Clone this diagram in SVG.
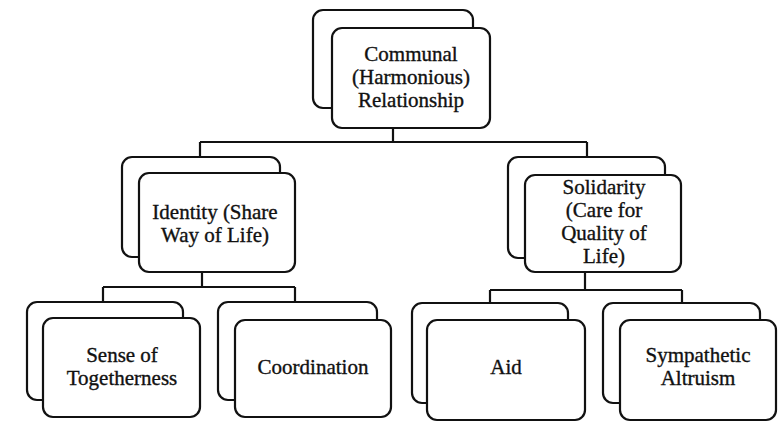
<svg xmlns="http://www.w3.org/2000/svg" width="778" height="422" viewBox="0 0 778 422">
<style>
.box{fill:#fff;stroke:#111;stroke-width:2.2}
.ln{fill:none;stroke:#111;stroke-width:2.2}
text{font-family:"Liberation Serif","Times New Roman",serif;font-size:21px;fill:#111;stroke:#111;stroke-width:0.35;text-anchor:middle}
</style>
<rect width="778" height="422" fill="#fff"/>
<g id="connectors">
<path class="ln" d="M393 128V142M200 142H587M200 142V157M587 142V157"/>
<path class="ln" d="M202 272V287M103 287H295M103 287V302M295 287V302"/>
<path class="ln" d="M585 272V290M490 290H682M490 290V303M682 290V303"/>
</g>
<g id="node-communal">
<rect class="box" x="313" y="10" width="160" height="98" rx="10"/>
<rect class="box" x="332" y="28" width="158" height="100" rx="10"/>
<text x="411" y="61">Communal</text>
<text x="411" y="84">(Harmonious)</text>
<text x="411" y="107">Relationship</text>
</g>
<g id="node-identity">
<rect class="box" x="122" y="157" width="158" height="100" rx="10"/>
<rect class="box" x="139" y="173" width="156" height="99" rx="10"/>
<text x="215" y="219">Identity (Share</text>
<text x="215" y="242">Way of Life)</text>
</g>
<g id="node-solidarity">
<rect class="box" x="508" y="157" width="157" height="101" rx="10"/>
<rect class="box" x="525" y="175" width="156" height="97" rx="10"/>
<text x="604" y="194">Solidarity</text>
<text x="604" y="217">(Care for</text>
<text x="604" y="240">Quality of</text>
<text x="604" y="263">Life)</text>
</g>
<g id="node-sense">
<rect class="box" x="27" y="302" width="156" height="98" rx="10"/>
<rect class="box" x="43" y="318" width="157" height="99" rx="10"/>
<text x="122" y="362">Sense of</text>
<text x="122" y="385">Togetherness</text>
</g>
<g id="node-coordination">
<rect class="box" x="218" y="302" width="159" height="98" rx="10"/>
<rect class="box" x="235" y="320" width="156" height="97" rx="10"/>
<text x="313" y="374">Coordination</text>
</g>
<g id="node-aid">
<rect class="box" x="412" y="303" width="156" height="100" rx="10"/>
<rect class="box" x="427" y="320" width="158" height="100" rx="10"/>
<text x="506" y="374">Aid</text>
</g>
<g id="node-sympathetic">
<rect class="box" x="603" y="303" width="157" height="100" rx="10"/>
<rect class="box" x="620" y="320" width="156" height="100" rx="10"/>
<text x="698" y="362">Sympathetic</text>
<text x="698" y="385">Altruism</text>
</g>
</svg>
